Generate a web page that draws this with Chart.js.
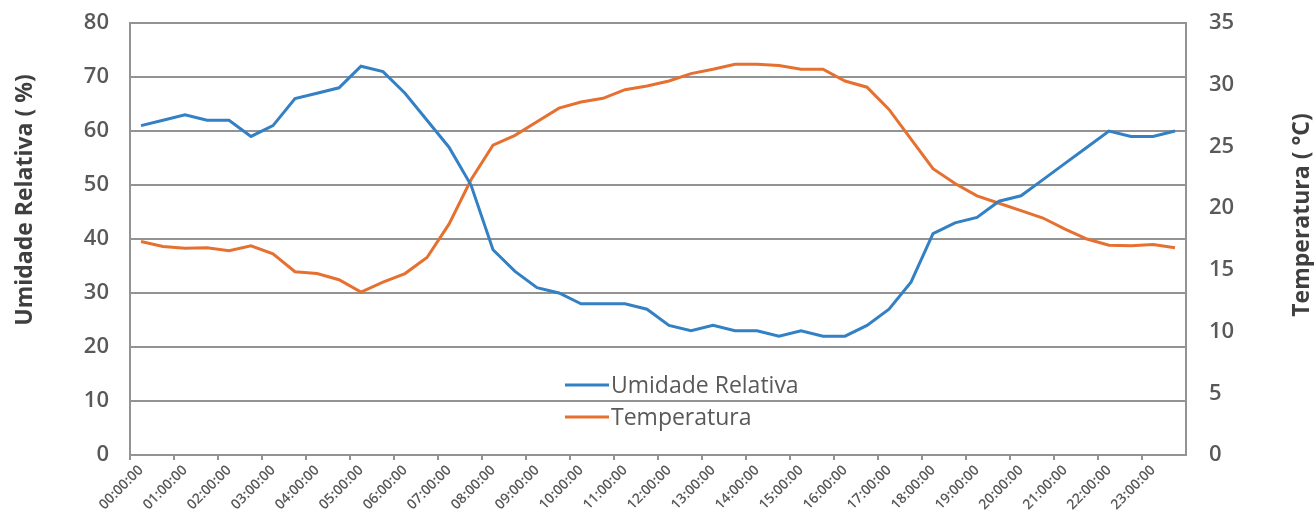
<!DOCTYPE html>
<html>
<head>
<meta charset="utf-8">
<script src="https://cdn.jsdelivr.net/npm/chart.js@4.4.1/dist/chart.umd.min.js"></script>
<style>
  html, body { margin: 0; padding: 0; background: #fff; }
  #wrap { width: 1314px; height: 526px; }
</style>
</head>
<body>
<div id="wrap"><canvas id="grafico"></canvas></div>
<script>
// horários (a cada 30 min), só as horas cheias aparecem no eixo
const horarios = [
  "00:00:00", "00:30:00", "01:00:00", "01:30:00", "02:00:00", "02:30:00",
  "03:00:00", "03:30:00", "04:00:00", "04:30:00", "05:00:00", "05:30:00",
  "06:00:00", "06:30:00", "07:00:00", "07:30:00", "08:00:00", "08:30:00",
  "09:00:00", "09:30:00", "10:00:00", "10:30:00", "11:00:00", "11:30:00",
  "12:00:00", "12:30:00", "13:00:00", "13:30:00", "14:00:00", "14:30:00",
  "15:00:00", "15:30:00", "16:00:00", "16:30:00", "17:00:00", "17:30:00",
  "18:00:00", "18:30:00", "19:00:00", "19:30:00", "20:00:00", "20:30:00",
  "21:00:00", "21:30:00", "22:00:00", "22:30:00", "23:00:00", "23:30:00"
]

const umidade = [
  61, 62, 63, 62, 62, 59, 61, 66, 67, 68, 72, 71,
  67, 62, 57, 50, 38, 34, 31, 30, 28, 28, 28, 27,
  24, 23, 24, 23, 23, 22, 23, 22, 22, 24, 27, 32,
  41, 43, 44, 47, 48, 51, 54, 57, 60, 59, 59, 60
]

const temperatura = [
  17.3, 16.9, 16.75, 16.8, 16.55, 16.95, 16.3, 14.85, 14.7, 14.2, 13.2, 14.0,
  14.7, 16.0, 18.7, 22.3, 25.1, 25.9, 27.0, 28.1, 28.6, 28.9, 29.6, 29.9,
  30.3, 30.9, 31.25, 31.65, 31.65, 31.55, 31.25, 31.25, 30.3, 29.8, 28.0, 25.6,
  23.2, 22.0, 21.0, 20.4, 19.8, 19.2, 18.3, 17.5, 17.0, 16.95, 17.05, 16.8
]

const ticksUmidade = [0, 10, 20, 30, 40, 50, 60, 70, 80]
const ticksTemperatura = [0, 5, 10, 15, 20, 25, 30, 35]

const tituloUmidade = "Umidade Relativa ( %)"
const tituloTemperatura = "Temperatura ( °C)"

const corTexto = "#595959"
const corTitulo = "#3f3f3f"
const corGrade = "#939393"

// legenda e títulos dos eixos desenhados à mão (posição livre como no Excel)
const extrasExcel = {
  id: "extrasExcel",
  afterDatasetsDraw(chart) {
    const { ctx, chartArea } = chart
    const x = chartArea.left + 435
    let y = chartArea.top + 362
    ctx.save()
    ctx.font = '23px "Open Sans"'
    ctx.textBaseline = "middle"
    chart.data.datasets.forEach((ds) => {
      ctx.strokeStyle = ds.borderColor
      ctx.lineWidth = 3
      ctx.beginPath()
      ctx.moveTo(x, y)
      ctx.lineTo(x + 44, y)
      ctx.stroke()
      ctx.fillStyle = corTexto
      ctx.fillText(ds.label, x + 46, y + 1)
      y += 32
    })

    ctx.font = 'bold 23px "Open Sans"'
    ctx.fillStyle = corTitulo
    ctx.textAlign = "center"
    ctx.translate(25, chartArea.top + 177)
    ctx.rotate(-Math.PI / 2)
    ctx.fillText(tituloUmidade, 0, 0)
    ctx.restore()

    ctx.save()
    ctx.font = 'bold 23px "Open Sans"'
    ctx.fillStyle = corTitulo
    ctx.textAlign = "center"
    ctx.textBaseline = "middle"
    ctx.translate(1302, chartArea.top + 192)
    ctx.rotate(-Math.PI / 2)
    ctx.fillText(tituloTemperatura, 0, 0)
    ctx.restore()
  },
}

function initGrafico() {
  const ctx = document.getElementById("grafico").getContext("2d")
  new Chart(ctx, {
    type: "line",
    data: {
      labels: horarios,
      datasets: [
        {
          label: "Umidade Relativa",
          data: umidade,
          yAxisID: "yUmidade",
          borderColor: "#3380c4",
          borderWidth: 3,
          pointRadius: 0,
          tension: 0,
        },
        {
          label: "Temperatura",
          data: temperatura,
          yAxisID: "yTemperatura",
          borderColor: "#e6702f",
          borderWidth: 3,
          pointRadius: 0,
          tension: 0,
        },
      ],
    },
    options: {
      responsive: true,
      maintainAspectRatio: false,
      animation: false,
      layout: { padding: { top: 23, left: 0, right: 0, bottom: 0 } },
      plugins: {
        legend: { display: false },
        tooltip: { enabled: false },
      },
      scales: {
        x: {
          offset: true,
          grid: {
            offset: true,
            drawOnChartArea: false,
            drawTicks: true,
            tickLength: 5,
            lineWidth: 2,
            color: (c) => (c.index % 2 === 0 ? corGrade : "rgba(0,0,0,0)"),
          },
          border: { color: corGrade, width: 2 },
          ticks: {
            autoSkip: false,
            maxRotation: 45,
            minRotation: 45,
            padding: 2,
            color: corTexto,
            font: { family: "Open Sans", size: 14, weight: "600" },
            callback: (v, i) => (i % 2 === 0 ? horarios[i] : ""),
          },
          afterFit: (s) => {
            s.height = 71
            s.paddingLeft = 0
            s.paddingRight = 0
          },
        },
        yUmidade: {
          position: "left",
          min: 0,
          max: 80,
          afterBuildTicks: (s) => { s.ticks = ticksUmidade.map((v) => ({ value: v })) },
          grid: { color: corGrade, lineWidth: 2, drawTicks: false },
          border: { color: corGrade, width: 2 },
          ticks: {
            padding: 21,
            color: corTexto,
            font: { family: "Open Sans", size: 22, weight: "600" },
          },
          afterFit: (s) => {
            s.width = 130
            s.paddingTop = 0
            s.paddingBottom = 0
          },
        },
        yTemperatura: {
          position: "right",
          min: 0,
          max: 35,
          afterBuildTicks: (s) => { s.ticks = ticksTemperatura.map((v) => ({ value: v })) },
          grid: { drawOnChartArea: false, drawTicks: false },
          border: { color: corGrade, width: 2 },
          ticks: {
            padding: 23,
            color: corTexto,
            font: { family: "Open Sans", size: 22, weight: "600" },
          },
          afterFit: (s) => {
            s.width = 128
            s.paddingTop = 0
            s.paddingBottom = 0
          },
        },
      },
    },
    plugins: [extrasExcel],
  })
}

document.addEventListener("DOMContentLoaded", () => {
  initGrafico()
})
</script>
</body>
</html>
